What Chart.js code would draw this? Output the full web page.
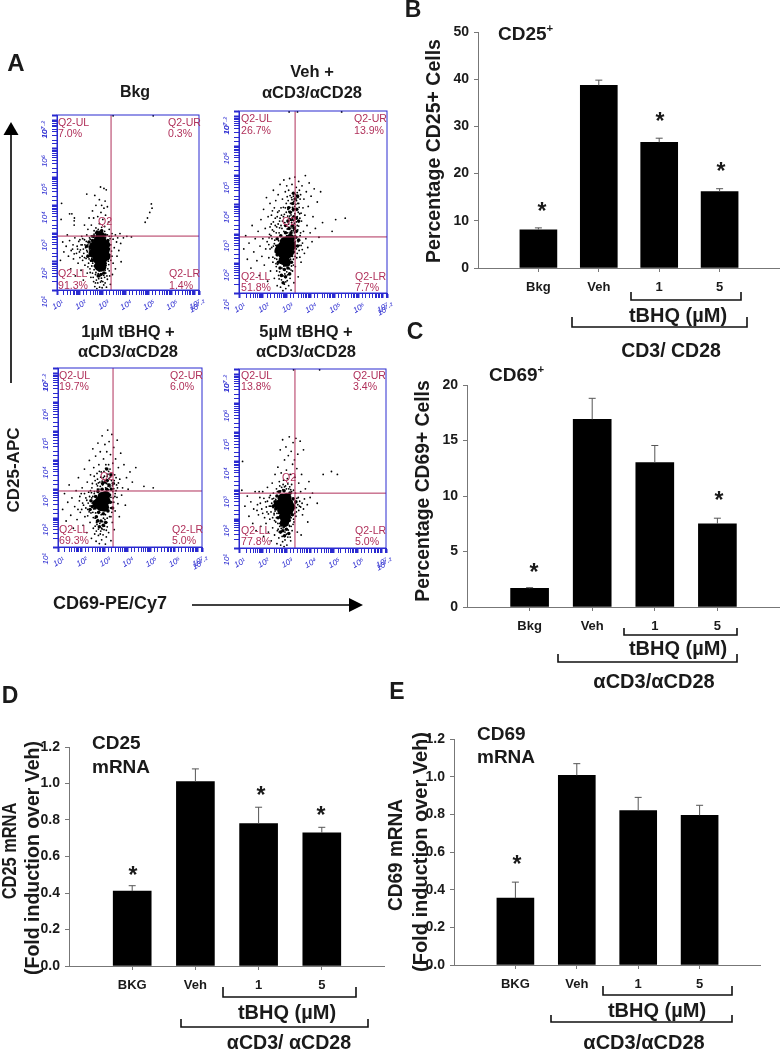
<!DOCTYPE html>
<html>
<head>
<meta charset="utf-8">
<title>tBHQ CD25 CD69</title>
<script src="https://cdn.jsdelivr.net/npm/chart.js@4"></script>
<style>
  html, body { margin: 0; padding: 0; background: #fff; }
  #page { position: relative; width: 780px; height: 1050px; overflow: hidden; background: #fff; }
  #page canvas { position: absolute; }
  #page svg { position: absolute; left: 0; top: 0; }
  .t { position: absolute; white-space: nowrap; line-height: 1; font-family: "Liberation Sans", Arial, sans-serif;
       font-weight: bold; color: #1a1a1a; transform: translate(-50%, -50%); }
  .l { transform: translate(0, -50%); }
  .v { transform: translate(-50%, -50%) rotate(-90deg); }
  .q { position: absolute; white-space: nowrap; line-height: 1; font-family: "Liberation Sans", Arial, sans-serif;
       font-size: 11.5px; color: #b0305a; transform: translate(0, -50%) scaleX(0.92); transform-origin: left center; }
  sup { font-size: 60%; line-height: 0; }
</style>
</head>
<body>
<div id="page"></div>
<script>
// Bar panels
const barLabelsUpper = ['', 'Bkg', 'Veh', '1', '5', ''];
const barLabelsMrna = ['', 'BKG', 'Veh', '1', '5', ''];

const cd25Pct = [null, 8.1, 38.7, 26.6, 16.2, null];
const cd25PctErr = [null, 0.4, 1.1, 0.9, 0.6, null];
const cd25PctTicks = [0, 10, 20, 30, 40, 50];

const cd69Pct = [null, 1.68, 16.9, 13.0, 7.5, null];
const cd69PctErr = [null, 0.06, 1.9, 1.55, 0.5, null];
const cd69PctTicks = [0, 5, 10, 15, 20];

const cd25Mrna = [null, 0.41, 1.01, 0.78, 0.73, null];
const cd25MrnaErr = [null, 0.03, 0.07, 0.09, 0.03, null];
const cd69Mrna = [null, 0.355, 1.007, 0.82, 0.795, null];
const cd69MrnaErr = [null, 0.085, 0.062, 0.07, 0.053, null];
const mrnaTicks = [0, 0.2, 0.4, 0.6, 0.8, 1.0, 1.2];

// Flow plots: [x, y] as log10 of the channel value
const bkgCore = [[2.88,2.5],[2.75,2.55],[3.0,2.55],[2.7,2.35],[2.85,2.25],[3.0,2.3],[2.8,2.75],[2.95,2.75],[2.88,2.92],[2.9,2.05],[2.76,2.1],[3.0,2.1],[2.6,2.55],[3.12,2.6],[3.1,2.4],[2.9,1.9],[2.58,2.3],[3.14,2.2],[2.96,1.82],[2.82,1.85]];
const bkgMid = [[2.45,2.5],[2.5,2.3],[2.4,2.7],[2.55,2.75],[2.6,2.9],[2.75,3.05],[2.95,3.1],[3.1,2.95],[3.22,2.75],[3.25,2.45],[3.2,2.15],[3.1,1.95],[3.0,1.75],[2.85,1.7],[2.7,1.85],[2.55,2.05],[2.35,2.2],[2.3,2.55],[2.92,1.55],[2.8,1.5],[3.05,1.6]];
const bkgDots = [[1.15,2.05],[1.25,2.7],[1.3,2.35],[1.4,2.55],[1.45,2.95],[1.5,2.2],[1.55,2.75],[1.6,1.75],[1.62,2.4],[1.7,2.6],[1.72,2.1],[1.78,2.85],[1.8,1.5],[1.85,2.3],[1.88,2.55],[1.92,1.95],[1.95,2.72],[2.0,2.15],[2.02,2.42],[2.05,1.7],[2.08,2.9],[2.1,2.6],[2.12,2.05],[2.15,1.35],[2.17,2.3],[2.2,2.78],[2.22,1.88],[2.25,2.5],[2.27,2.12],[2.3,2.95],[2.32,1.6],[2.33,2.35],[2.36,2.68],[2.38,1.95],[2.4,2.2],[2.42,2.85],[2.44,1.75],[2.46,2.05],[2.48,1.45],[2.5,2.92],[2.52,1.85],[2.55,1.6],[2.6,1.3],[2.62,1.72],[2.65,1.12],[2.68,1.55],[2.72,1.35],[2.74,1.05],[2.78,1.25],[2.82,1.4],[2.86,1.1],[2.9,1.28],[2.94,1.42],[2.97,1.08],[3.0,1.3],[3.04,1.18],[3.08,1.45],[3.1,1.25],[3.13,1.6],[3.16,1.1],[3.2,1.38],[3.22,1.75],[3.26,1.9],[3.3,1.5],[3.33,1.2],[1.2,4.07],[1.18,3.5],[1.55,3.7],[1.65,3.7],[1.75,3.3],[1.75,3.45],[1.76,3.55],[2.3,4.4],[2.65,4.35],[2.9,4.65],[3.05,4.6],[3.15,4.55],[2.85,4.2],[2.7,4.0],[2.95,4.0],[3.1,4.15],[3.05,3.9],[2.55,3.8],[2.4,3.55],[2.2,3.3],[2.35,3.15],[2.5,3.3],[2.6,3.55],[2.7,3.2],[2.78,3.6],[2.85,3.35],[2.92,3.75],[3.0,3.5],[3.08,3.25],[3.12,3.65],[3.2,3.95],[3.25,3.4],[3.28,3.15],[2.62,3.1],[2.8,3.15],[2.95,3.22],[3.4,3.0],[3.45,2.8],[3.5,2.5],[3.55,2.95],[3.6,2.7],[3.62,2.2],[3.65,2.85],[3.7,2.4],[3.75,3.0],[3.78,2.65],[3.4,2.2],[3.45,1.95],[3.42,1.55],[3.35,2.6],[3.38,2.9],[3.9,2.85],[4.05,2.9],[4.25,2.88],[3.8,2.0],[3.55,1.75],[5.12,4.05],[5.15,3.9],[5.05,3.75],[4.95,3.55],[4.85,3.4],[3.45,7.17],[5.2,7.17],
  [2.3,2.4],[2.35,2.6],[2.4,2.1],[2.42,2.42],[2.45,2.8],[2.47,2.25],[2.5,2.62],[2.52,2.12],[2.53,2.88],[2.55,2.45],[2.56,1.95],[2.58,2.7],[2.6,2.22],[2.62,2.98],[2.63,1.85],[2.65,2.62],[2.67,2.42],[2.69,3.02],[2.7,1.62],[2.72,1.98],[2.74,2.85],[2.76,1.72],[2.78,2.98],[2.8,1.58],[2.82,1.88],[2.84,3.08],[2.86,1.48],[2.88,1.78],[2.9,3.02],[2.92,1.68],[2.94,1.32],[2.96,3.12],[2.98,1.58],[3.0,1.88],[3.02,3.0],[3.04,1.52],[3.06,1.78],[3.08,3.08],[3.1,1.7],[3.12,2.85],[3.14,1.88],[3.16,2.72],[3.18,1.5],[3.2,2.95],[3.22,2.32],[3.24,2.02],[3.26,2.62],[3.28,1.68],[3.3,2.25],[3.32,2.82],[3.35,2.05],[3.38,2.38],[3.28,2.9],[2.15,2.45],[2.1,2.2],[2.05,2.6],[1.98,2.35],[2.0,2.78],[2.2,2.15],[2.28,2.72],[2.22,2.6],[2.12,2.82],[1.9,2.45],[1.75,2.28],[1.68,2.45],[2.35,1.82],[2.45,1.62],[2.58,1.45],[2.68,1.25],[2.48,2.02]];

const vehCore = [[2.95,2.5],[2.82,2.6],[3.08,2.55],[2.8,2.35],[2.95,2.25],[3.1,2.35],[2.9,2.75],[3.02,2.78],[2.85,2.12],[2.98,2.05],[2.68,2.45],[3.2,2.6],[3.15,2.85]];
const vehMid = [[2.62,2.6],[2.6,2.3],[2.65,2.05],[2.72,1.85],[2.9,1.8],[3.05,1.85],[3.2,2.05],[3.28,2.4],[3.3,2.7],[3.38,2.9],[3.15,2.95],[2.95,3.05],[2.75,2.95],[2.6,2.85],[3.1,3.2],[3.25,3.3],[3.4,3.1],[3.45,2.6],[3.5,3.45],[3.3,3.6],[3.15,3.75],[3.42,3.85],[3.25,4.05],[3.35,4.2],[3.05,3.45],[2.95,3.3],[3.5,2.8],[2.78,1.6],[2.95,1.55],[3.12,1.65],[2.85,1.35],[3.2,3.5],[3.32,3.2],[3.08,3.9],[3.28,4.4],[3.45,4.3],[3.4,3.55],[3.18,3.05],[3.28,3.85]];
const vehDots = [[1.2,2.5],[1.28,2.95],[1.35,2.15],[1.42,2.7],[1.5,1.85],[1.55,3.3],[1.62,2.4],[1.68,2.85],[1.75,2.1],[1.8,3.1],[1.85,1.6],[1.88,2.6],[1.92,3.5],[1.96,2.25],[2.0,2.85],[2.03,3.85],[2.06,1.95],[2.1,3.2],[2.12,2.5],[2.15,4.25],[2.18,2.75],[2.2,1.4],[2.22,3.6],[2.25,2.2],[2.28,3.0],[2.3,4.05],[2.32,1.75],[2.35,3.35],[2.37,2.55],[2.4,3.8],[2.42,2.05],[2.44,4.5],[2.46,3.1],[2.48,1.5],[2.5,2.8],[2.52,3.55],[2.54,4.15],[2.56,1.9],[2.58,3.25],[2.6,1.25],[2.62,3.75],[2.64,4.35],[2.66,1.6],[2.68,3.05],[2.7,3.45],[2.72,4.7],[2.74,1.2],[2.76,3.9],[2.78,1.45],[2.8,3.2],[2.82,4.2],[2.84,1.08],[2.86,3.6],[2.88,4.85],[2.9,1.3],[2.92,3.4],[2.94,4.45],[2.96,1.15],[2.98,3.75],[3.0,4.65],[3.02,1.42],[3.04,3.05],[3.06,4.15],[3.08,1.25],[3.1,3.55],[3.12,4.9],[3.14,1.5],[3.16,4.05],[3.18,1.1],[3.2,3.4],[3.22,4.7],[3.24,1.75],[3.26,3.8],[3.28,4.3],[3.3,1.35],[3.32,3.05],[3.34,4.95],[3.36,1.9],[3.38,3.55],[3.4,4.6],[3.42,2.2],[3.44,3.3],[3.46,4.05],[3.48,1.55],[3.5,4.8],[3.52,2.45],[3.54,3.7],[3.56,2.95],[3.58,4.35],[3.6,2.05],[3.62,3.45],[3.64,4.65],[3.66,2.7],[3.68,3.9],[3.7,3.1],[3.72,4.2],[3.74,2.35],[3.76,3.65],[3.78,5.0],[3.8,2.85],[3.82,4.45],[3.85,3.3],[3.88,2.55],[3.9,3.95],[3.94,4.75],[3.98,3.05],[4.02,4.3],[4.06,2.75],[4.1,3.6],[4.15,4.55],[4.2,3.2],[4.28,4.1],[4.35,2.9],[4.42,4.45],[4.5,3.4],[5.05,3.5],[5.45,3.55],[4.9,3.1],[3.0,2.95],[3.2,3.12],[3.32,3.38],[3.12,3.62],[3.28,3.82],[3.05,3.85],[3.22,4.18],[3.38,4.02],[3.48,3.75],[3.18,3.28],[2.88,3.1],[2.7,3.22],[3.35,2.95],[2.52,2.4],[2.48,2.68],[2.42,2.22],[2.55,2.0],[2.58,1.75],[2.68,1.48],[2.3,2.5],[2.38,2.85],[2.25,2.65],[3.35,2.25],[3.4,2.5],[3.28,1.95],[3.18,1.78],[3.45,7.17],[5.3,7.17],[3.1,7.17],
  [3.02,3.18],[3.08,3.35],[3.14,3.02],[3.16,3.48],[3.22,3.22],[3.24,3.58],[3.27,3.12],[3.3,3.48],[3.34,3.7],[3.36,3.25],[3.4,3.42],[3.44,3.6],[3.46,3.15],[3.5,3.28],[3.52,3.92],[3.55,3.55],[3.58,3.05],[3.6,3.72],[3.04,3.62],[3.09,3.78],[3.13,3.92],[3.18,3.66],[3.2,4.25],[3.24,3.92],[3.3,4.12],[3.33,3.95],[3.37,4.35],[3.41,4.15],[3.44,4.42],[3.47,4.25],[3.5,4.05],[3.53,4.5],[3.56,4.2],[3.14,4.32],[3.08,4.5],[3.02,4.28],[2.98,4.05],[2.94,3.9],[2.9,3.68],[2.86,3.92],[2.82,3.45],[2.78,3.65],[2.76,3.3],[2.72,3.55],[2.68,3.8],[2.64,3.35],[2.6,3.6],[2.56,3.05],[2.52,3.3],[2.48,3.9],[2.44,3.42],[2.4,3.15],[2.36,3.65],[2.3,3.25],[2.26,2.88],[2.34,2.95],[2.44,2.6],[2.5,2.18],[2.54,2.62],[2.58,2.15],[2.62,1.98],[2.66,2.78],[2.7,1.72],[2.74,2.02],[2.76,1.62],[2.8,1.85],[2.84,1.58],[2.88,1.92],[2.92,1.65],[2.96,1.38],[3.0,1.72],[3.04,1.62],[3.08,1.95],[3.12,1.82],[3.16,2.15],[3.2,1.92],[3.24,2.25],[3.28,2.15],[3.32,2.55],[3.36,2.75],[3.44,2.35],[3.48,2.75],[3.52,2.62],[3.55,2.22],[3.6,2.62],[3.65,2.48]];

const oneCore = [[2.94,2.56],[2.8,2.6],[3.06,2.6],[2.85,2.4],[3.0,2.38],[2.9,2.75],[3.05,2.78],[2.68,2.5]];
const oneMid = [[2.55,2.55],[2.6,2.35],[2.62,2.75],[2.75,2.2],[2.95,2.15],[3.15,2.25],[3.25,2.55],[3.22,2.8],[3.3,3.0],[3.1,3.0],[2.9,3.0],[2.72,2.92],[2.85,1.9],[2.95,1.75],[2.78,1.7],[3.05,1.85],[2.65,2.05],[2.48,2.4],[3.12,3.3],[3.28,3.5],[3.1,3.7],[3.02,3.25],[3.38,3.2],[3.35,2.35],[2.42,2.6],[2.38,2.3],[2.7,1.9],[3.2,3.15],[2.92,3.2]];
const oneDots = [[1.2,2.3],[1.28,2.85],[1.35,1.9],[1.42,2.55],[1.48,3.15],[1.55,2.1],[1.6,2.7],[1.66,1.65],[1.72,2.4],[1.78,2.95],[1.82,1.95],[1.88,3.4],[1.92,2.6],[1.96,2.2],[2.0,2.85],[2.04,3.05],[2.08,1.75],[2.1,2.45],[2.14,3.7],[2.16,2.05],[2.2,2.7],[2.24,1.5],[2.26,3.25],[2.28,2.3],[2.32,2.9],[2.35,4.0],[2.38,1.85],[2.4,3.5],[2.42,2.6],[2.44,1.3],[2.46,3.05],[2.5,4.4],[2.52,1.65],[2.54,3.75],[2.56,2.85],[2.58,1.45],[2.6,3.3],[2.62,4.15],[2.64,1.2],[2.66,1.85],[2.68,3.55],[2.7,3.0],[2.72,4.6],[2.74,1.4],[2.76,3.85],[2.78,1.12],[2.8,3.25],[2.82,4.3],[2.84,1.55],[2.86,3.6],[2.88,1.25],[2.9,4.85],[2.92,3.15],[2.94,1.42],[2.96,4.05],[2.98,1.6],[3.0,3.45],[3.02,4.55],[3.04,1.1],[3.06,3.85],[3.08,1.35],[3.1,4.3],[3.12,1.7],[3.14,5.05],[3.16,3.1],[3.18,1.5],[3.2,4.65],[3.22,2.05],[3.24,3.7],[3.26,4.2],[3.28,1.22],[3.3,3.3],[3.32,4.9],[3.34,1.85],[3.36,3.9],[3.38,2.7],[3.4,4.45],[3.42,1.6],[3.44,3.5],[3.46,2.25],[3.48,4.05],[3.5,2.95],[3.52,3.15],[3.55,4.7],[3.58,2.5],[3.6,3.75],[3.64,2.05],[3.66,3.35],[3.7,4.25],[3.74,2.8],[3.78,3.05],[3.84,3.85],[3.9,2.45],[3.95,3.4],[4.02,3.0],[4.1,3.6],[4.2,3.25],[4.35,3.75],[4.7,3.1],[5.1,3.05],[3.05,3.05],[2.82,3.1],[2.7,3.35],[2.95,3.4],[3.15,3.52],[3.05,3.72],[3.18,3.85],[2.6,2.0],[2.5,2.2],[2.45,2.7],[2.4,2.95],[2.72,1.95],[2.88,1.65],[3.02,1.95],[3.12,2.0],[3.4,2.55],[3.45,2.75],[3.32,2.2],[3.28,2.05],
  [2.2,2.35],[2.24,2.62],[2.28,2.08],[2.3,2.52],[2.34,2.22],[2.36,2.75],[2.38,2.42],[2.42,2.18],[2.44,2.88],[2.47,2.52],[2.5,2.75],[2.52,2.02],[2.54,2.32],[2.57,2.92],[2.6,1.72],[2.62,2.18],[2.65,1.55],[2.68,1.78],[2.7,3.12],[2.74,1.62],[2.76,3.0],[2.8,1.82],[2.82,1.45],[2.86,2.12],[2.9,1.62],[2.92,1.88],[2.96,2.0],[3.0,1.72],[3.04,2.12],[3.08,1.58],[3.1,1.85],[3.15,3.18],[3.18,2.98],[3.2,3.38],[3.24,3.08],[3.26,2.35],[3.28,2.72],[3.32,2.55],[3.34,3.12],[3.36,2.92],[3.4,3.02],[3.42,3.3],[3.46,2.85],[3.5,3.4],[3.54,2.72],[3.56,3.05],[3.6,3.22],[3.25,3.42],[3.18,3.62],[3.12,3.45],[3.08,3.2],[2.98,3.62],[2.9,3.28],[2.84,3.42],[2.78,3.62],[2.74,3.22],[2.66,3.18],[2.56,3.45],[2.48,3.2],[2.14,2.85],[2.06,2.52],[2.02,2.3],[1.94,2.75],[1.86,2.3]];

const fiveCore = [[2.94,2.5],[2.78,2.55],[3.1,2.55],[2.82,2.72],[3.02,2.75],[2.8,2.32],[2.95,2.28],[3.1,2.3],[2.88,2.1],[3.0,2.08],[2.65,2.5],[3.18,2.42],[2.92,1.88]];
const fiveMid = [[2.52,2.6],[2.55,2.35],[2.6,2.8],[2.7,2.95],[2.9,2.98],[3.15,2.9],[3.28,2.7],[3.3,2.45],[3.25,2.15],[3.12,1.95],[2.95,1.85],[2.8,1.8],[2.65,2.05],[2.85,1.6],[3.0,1.65],[2.92,1.42],[3.1,1.5],[2.75,1.55],[2.45,2.45],[3.4,2.6]];
const fiveDots = [[1.12,3.0],[1.15,4.0],[1.25,2.45],[1.35,2.8],[1.42,2.1],[1.5,2.6],[1.58,1.85],[1.62,2.35],[1.68,2.95],[1.72,1.6],[1.78,2.5],[1.82,2.15],[1.88,2.75],[1.92,1.75],[1.96,2.35],[2.0,2.95],[2.04,1.4],[2.08,2.05],[2.12,2.6],[2.14,1.85],[2.18,2.25],[2.2,3.1],[2.24,1.55],[2.28,2.75],[2.3,2.0],[2.34,2.45],[2.36,1.25],[2.4,3.25],[2.42,1.7],[2.45,2.9],[2.48,2.15],[2.5,1.45],[2.52,3.55],[2.55,1.9],[2.58,3.05],[2.6,1.15],[2.62,1.6],[2.64,3.8],[2.66,2.2],[2.68,1.35],[2.7,3.3],[2.72,1.75],[2.74,4.4],[2.76,1.1],[2.78,3.6],[2.8,3.1],[2.82,1.4],[2.84,4.75],[2.86,1.7],[2.88,3.35],[2.9,1.05],[2.92,4.05],[2.94,1.55],[2.96,3.15],[2.98,4.5],[3.0,3.7],[3.02,1.1],[3.04,3.4],[3.06,1.38],[3.08,4.2],[3.1,3.05],[3.12,4.85],[3.14,1.75],[3.16,3.55],[3.18,1.25],[3.2,4.35],[3.22,3.2],[3.24,1.6],[3.26,3.9],[3.28,4.65],[3.3,3.0],[3.32,1.9],[3.34,4.05],[3.36,3.45],[3.38,2.9],[3.4,4.8],[3.42,2.25],[3.44,3.75],[3.46,1.55],[3.48,4.25],[3.5,2.75],[3.52,3.25],[3.55,2.45],[3.58,4.7],[3.6,2.95],[3.64,3.55],[3.68,2.15],[3.72,4.4],[3.76,2.7],[3.8,3.05],[3.88,2.5],[3.95,3.3],[4.0,2.75],[4.1,2.9],[4.3,2.55],[4.55,3.55],[4.9,3.65],[5.15,3.55],[3.9,1.9],[3.62,1.45],[3.0,3.05],[2.85,3.02],[3.18,3.02],[2.72,3.15],[3.35,2.2],[3.42,2.4],[3.3,2.0],[3.2,1.75],[2.58,2.05],[2.48,2.2],[2.4,2.7],[2.72,1.85],[2.65,1.65],[3.3,7.17],[4.4,7.17],
  [2.15,2.42],[2.2,2.62],[2.24,2.18],[2.28,2.45],[2.32,2.82],[2.35,2.25],[2.38,2.55],[2.42,2.05],[2.44,2.4],[2.46,2.72],[2.5,1.95],[2.52,2.28],[2.55,2.68],[2.58,2.48],[2.6,2.2],[2.62,2.95],[2.64,1.85],[2.68,2.7],[2.7,1.55],[2.74,2.05],[2.76,2.98],[2.78,1.68],[2.82,1.95],[2.84,1.22],[2.86,3.2],[2.9,1.72],[2.92,3.12],[2.94,1.28],[2.98,1.9],[3.0,1.48],[3.04,1.82],[3.06,3.22],[3.08,1.62],[3.12,1.78],[3.14,3.12],[3.16,1.38],[3.2,2.05],[3.22,2.95],[3.26,2.45],[3.28,1.82],[3.32,2.72],[3.34,2.38],[3.38,2.55],[3.4,2.1],[3.44,2.72],[3.48,2.5],[3.52,2.3],[3.56,2.62],[3.6,2.42],[3.66,2.55],[3.72,2.35],[2.05,2.72],[2.0,2.2],[1.9,2.55],[1.85,2.95],[1.76,2.3]];

// Quadrant gates as log10 positions
const bkgGate = [3.36, 2.91];
const vehGate = [3.35, 2.91];
const oneGate = [3.37, 2.94];
const fiveGate = [3.36, 2.90];

const quadrantText = {
  bkg: ['7.0%', '0.3%', '91.3%', '1.4%'],
  veh: ['26.7%', '13.9%', '51.8%', '7.7%'],
  one: ['19.7%', '6.0%', '69.3%', '5.0%'],
  five: ['13.8%', '3.4%', '77.8%', '5.0%']
};

const FONT = '"Liberation Sans", Arial, sans-serif';
const page = document.getElementById('page');
const LOG_MIN = 10;
const LOG_MAX = 15848932; // 10^7.2

function addText(html, x, y, size, cls, extra) {
  const el = document.createElement('div');
  el.className = 't ' + (cls || '');
  el.innerHTML = html;
  el.style.left = x + 'px';
  el.style.top = y + 'px';
  el.style.fontSize = size + 'px';
  el.style.zIndex = 5;
  if (extra) el.style.transform = extra;
  page.appendChild(el);
}

function addQ(text, x, y) {
  const el = document.createElement('div');
  el.className = 'q';
  el.textContent = text;
  el.style.left = x + 'px';
  el.style.top = y + 'px';
  el.style.zIndex = 5;
  page.appendChild(el);
}

function addCanvas(l, t, w, h) {
  const c = document.createElement('canvas');
  c.width = w;
  c.height = h;
  c.style.left = l + 'px';
  c.style.top = t + 'px';
  c.style.width = w + 'px';
  c.style.height = h + 'px';
  page.appendChild(c);
  return c;
}

// tick padding otherwise eats into the axis ends
function noScalePadding(s) {
  s.paddingLeft = 0;
  s.paddingRight = 0;
  s.paddingTop = 0;
  s.paddingBottom = 0;
}

// upward error bars, Chart.js has none of its own
const errorBars = {
  id: 'errorBars',
  afterDatasetsDraw(chart, args, opts) {
    const { x, y } = chart.scales;
    const ctx = chart.ctx;
    ctx.save();
    ctx.strokeStyle = '#555';
    ctx.lineWidth = 1;
    chart.data.datasets[0].data.forEach((v, i) => {
      if (v === null) return;
      const px = x.getPixelForValue(i);
      const top = y.getPixelForValue(v + opts.err[i]);
      ctx.beginPath();
      ctx.moveTo(px, y.getPixelForValue(v));
      ctx.lineTo(px, top);
      ctx.moveTo(px - 3.5, top);
      ctx.lineTo(px + 3.5, top);
      ctx.stroke();
    });
    ctx.restore();
  }
};

const frameBox = {
  id: 'frameBox',
  afterDraw(chart) {
    const a = chart.chartArea;
    chart.ctx.save();
    chart.ctx.strokeStyle = '#2a2ad0';
    chart.ctx.lineWidth = 1;
    chart.ctx.strokeRect(a.left, a.top, a.right - a.left, a.bottom - a.top);
    chart.ctx.restore();
  }
};

function barChart(box, labels, values, errs, ticks, max, barW, decimals) {
  const padL = 60, padT = 10, padB = 34;
  const c = addCanvas(box.l - padL, box.t - padT, box.r - box.l + padL, box.b - box.t + padT + padB);
  return new Chart(c, {
    type: 'bar',
    data: { labels, datasets: [{ data: values, backgroundColor: '#000', barThickness: barW }] },
    plugins: [errorBars],
    options: {
      responsive: false,
      animation: false,
      layout: { padding: { top: padT }, autoPadding: false },
      plugins: { legend: { display: false }, tooltip: { enabled: false }, errorBars: { err: errs } },
      scales: {
        x: {
          offset: false,
          afterFit(s) { s.height = padB; noScalePadding(s); },
          grid: {
            offset: false, drawOnChartArea: false, tickLength: 4,
            tickColor: ctx => (labels[ctx.index] ? '#777' : 'transparent')
          },
          border: { color: '#777' },
          ticks: {
            autoSkip: false, maxRotation: 0, padding: 8, color: '#1a1a1a',
            font: { family: FONT, weight: 'bold', size: 13 }
          }
        },
        y: {
          min: 0,
          max,
          afterFit(s) { s.width = padL; noScalePadding(s); },
          afterBuildTicks(s) { s.ticks = ticks.map(v => ({ value: v })); },
          grid: { drawOnChartArea: false, tickLength: 4, tickColor: '#777' },
          border: { color: '#777' },
          ticks: {
            padding: 5, color: '#1a1a1a',
            font: { family: FONT, weight: 'bold', size: 14 },
            callback: v => v.toFixed(decimals)
          }
        }
      }
    }
  });
}

const superDigits = { 1: '¹', 2: '²', 3: '³', 4: '⁴', 5: '⁵', 6: '⁶', 7: '⁷' };
function logLabel(v) {
  if (v >= LOG_MAX) return '10⁷·²';
  const e = Math.log10(v);
  return Math.abs(e - Math.round(e)) < 1e-6 ? '10' + superDigits[Math.round(e)] : '';
}

function logAxis(isX, fit) {
  return {
    type: 'logarithmic',
    min: LOG_MIN,
    max: LOG_MAX,
    afterFit(s) { if (isX) s.height = fit; else s.width = fit; noScalePadding(s); },
    grid: {
      drawOnChartArea: false,
      tickLength: 5,
      tickColor: '#2a2ad0',
      tickWidth: ctx => (ctx.tick && logLabel(ctx.tick.value) ? 2 : 1)
    },
    border: { color: '#2a2ad0' },
    ticks: {
      autoSkip: false,
      minRotation: isX ? 30 : 90,
      maxRotation: isX ? 30 : 90,
      padding: isX ? 3 : 7,
      labelOffset: 6,
      color: '#2a2ad0',
      font: { family: FONT, style: 'italic', size: 8 },
      callback: logLabel
    }
  };
}

function toPoints(list) {
  return list.map(p => ({ x: Math.pow(10, p[0]), y: Math.pow(10, p[1]) }));
}

function flowPlot(box, dots, mid, core, gate) {
  const padL = 22, padT = 12, padR = 14, padB = 24;
  const c = addCanvas(box.l - padL, box.t - padT, box.r - box.l + padL + padR, box.b - box.t + padT + padB);
  const gx = Math.pow(10, gate[0]);
  const gy = Math.pow(10, gate[1]);
  const gateStyle = { type: 'scatter', showLine: true, borderColor: '#b0305a', borderWidth: 1, pointRadius: 0, order: 0 };
  const cloud = (list, r, order) => ({ data: toPoints(list), backgroundColor: '#000', borderWidth: 0, pointRadius: r, order });
  return new Chart(c, {
    type: 'scatter',
    data: {
      datasets: [
        Object.assign({ data: [{ x: gx, y: LOG_MIN }, { x: gx, y: LOG_MAX }] }, gateStyle),
        Object.assign({ data: [{ x: LOG_MIN, y: gy }, { x: LOG_MAX, y: gy }] }, gateStyle),
        cloud(dots, 0.9, 3),
        cloud(mid, 1.8, 2),
        cloud(core, 4.6, 1)
      ]
    },
    plugins: [frameBox],
    options: {
      responsive: false,
      animation: false,
      layout: { padding: { top: padT, right: padR }, autoPadding: false },
      plugins: { legend: { display: false }, tooltip: { enabled: false } },
      scales: { x: logAxis(true, padB), y: logAxis(false, padL) }
    }
  });
}

// Panel A
flowPlot({ l: 57, t: 115, r: 199, b: 290 }, bkgDots, bkgMid, bkgCore, bkgGate);
flowPlot({ l: 239, t: 111, r: 387, b: 293 }, vehDots, vehMid, vehCore, vehGate);
flowPlot({ l: 58, t: 368, r: 202, b: 547 }, oneDots, oneMid, oneCore, oneGate);
flowPlot({ l: 239, t: 369, r: 386, b: 548 }, fiveDots, fiveMid, fiveCore, fiveGate);

function quadLabels(pct, xs, ys) {
  addQ('Q2-UL', xs[0], ys[0]); addQ(pct[0], xs[0], ys[1]);
  addQ('Q2-UR', xs[1], ys[0]); addQ(pct[1], xs[1], ys[1]);
  addQ('Q2-LL', xs[0], ys[2]); addQ(pct[2], xs[0], ys[3]);
  addQ('Q2-LR', xs[2], ys[2]); addQ(pct[3], xs[2], ys[3]);
}
quadLabels(quadrantText.bkg, [58, 168, 169], [123, 134, 274, 286]);
quadLabels(quadrantText.veh, [241, 354, 355], [119, 131, 277, 288]);
quadLabels(quadrantText.one, [59, 170, 172], [376, 387, 530, 541]);
quadLabels(quadrantText.five, [241, 353, 355], [376, 387, 531, 542]);
addQ('Q2', 98, 222);
addQ('Q2', 282, 222);
addQ('Q2', 100, 477);
addQ('Q2', 282, 478);

addText('A', 16, 63, 24);
addText('Bkg', 135, 92, 16);
addText('Veh +', 312, 71, 16.5);
addText('αCD3/αCD28', 312, 92, 16.5);
addText('1µM tBHQ +', 128, 331, 16.5);
addText('αCD3/αCD28', 128, 351, 16.5);
addText('5µM tBHQ +', 306, 331, 16.5);
addText('αCD3/αCD28', 306, 351, 16.5);
addText('CD25-APC', 13, 470, 17, 'v');
addText('CD69-PE/Cy7', 110, 603, 18);

// Panels B to E
barChart({ l: 478, t: 32, r: 780, b: 268 }, barLabelsUpper, cd25Pct, cd25PctErr, cd25PctTicks, 50, 37, 0);
barChart({ l: 467, t: 385, r: 780, b: 607 }, barLabelsUpper, cd69Pct, cd69PctErr, cd69PctTicks, 20, 38, 0);
barChart({ l: 69, t: 747, r: 385, b: 966 }, barLabelsMrna, cd25Mrna, cd25MrnaErr, mrnaTicks, 1.2, 38, 1);
barChart({ l: 454, t: 739, r: 761, b: 965 }, barLabelsMrna, cd69Mrna, cd69MrnaErr, mrnaTicks, 1.2, 37, 1);

addText('B', 413, 9, 23);
addText('C', 415, 331, 23);
addText('D', 10, 695, 23);
addText('E', 397, 691, 23);

addText('Percentage CD25+ Cells', 434, 151, 19.5, 'v');
addText('Percentage CD69+ Cells', 423, 491, 19.3, 'v');
addText('CD25 mRNA', 9, 851, 20, 'v', 'translate(-50%, -50%) rotate(-90deg) scaleX(0.82)');
addText('(Fold induction over Veh)', 33, 858, 19.5, 'v');
addText('CD69 mRNA', 395, 855, 20, 'v', 'translate(-50%, -50%) rotate(-90deg) scaleX(0.95)');
addText('(Fold induction over Veh)', 420, 852, 20, 'v');

addText('CD25<sup>+</sup>', 498, 33, 19, 'l');
addText('CD69<sup>+</sup>', 489, 374, 19, 'l');
addText('CD25', 92, 742, 19, 'l');
addText('mRNA', 92, 766, 19, 'l');
addText('CD69', 477, 733, 19, 'l');
addText('mRNA', 477, 756, 19, 'l');

addText('tBHQ (µM)', 678, 315, 20);
addText('CD3/ CD28', 671, 351, 19.5);
addText('tBHQ (µM)', 678, 648, 20);
addText('αCD3/αCD28', 654, 681, 20);
addText('tBHQ (µM)', 287, 1012, 20);
addText('αCD3/ αCD28', 289, 1043, 19.6);
addText('tBHQ (µM)', 657, 1010, 20);
addText('αCD3/αCD28', 644, 1042, 20);

// asterisks, glyph sits high in its box so nudge down
[[542, 207], [660, 117], [721, 167], [534, 568], [719, 496], [133, 871], [261, 791], [321, 811], [517, 860]]
  .forEach(p => addText('*', p[0], p[1] + 4, 23));

// brackets and arrows
const brackets = [
  [631, 741, 292, 300], [572, 747, 317, 327],
  [624, 737, 628, 635], [558, 737, 654, 662],
  [223, 356, 987, 997], [181, 368, 1019, 1027],
  [603, 732, 986, 995], [551, 732, 1015, 1022]
];
let svg = '<svg width="780" height="1050" style="z-index:4">';
brackets.forEach(b => {
  svg += `<path d="M${b[0]} ${b[2]}V${b[3]}H${b[1]}V${b[2]}" fill="none" stroke="#111" stroke-width="1.6"/>`;
});
svg += '<path d="M11 135V383" stroke="#000" stroke-width="1.6"/><path d="M3.5 135L11 122L18.5 135Z" fill="#000"/>';
svg += '<path d="M192 605H350" stroke="#000" stroke-width="1.6"/><path d="M349 598L363 605L349 612Z" fill="#000"/>';
svg += '</svg>';
page.insertAdjacentHTML('beforeend', svg);
</script>
</body>
</html>
